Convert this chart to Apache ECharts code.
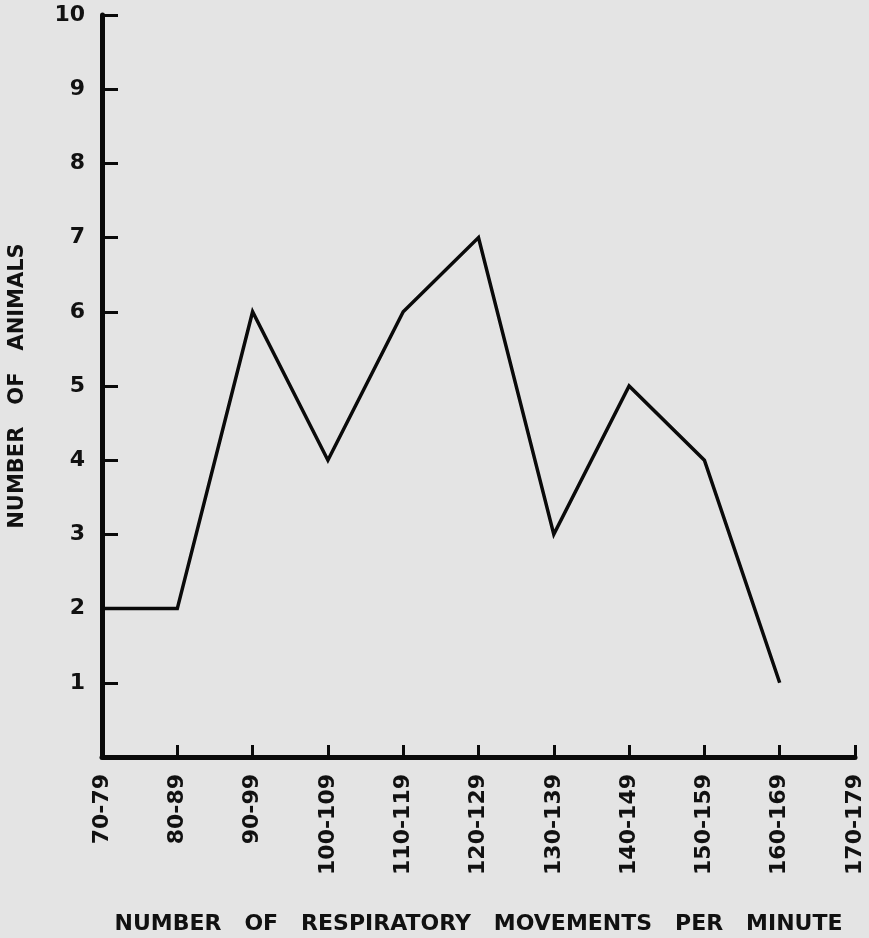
<!DOCTYPE html>
<html>
<head>
<meta charset="utf-8">
<script src="https://cdn.jsdelivr.net/npm/echarts@6/dist/echarts.min.js"></script>
<style>
html,body{margin:0;padding:0;background:#e4e4e4;}
#c{width:869px;height:938px;}
</style>
</head>
<body>
<div id="c"></div>
<script>
const categories = ['70-79','80-89','90-99','100-109','110-119','120-129','130-139','140-149','150-159','160-169','170-179'];
const animals = [2,2,6,4,6,7,3,5,4,1,null];
const yTicks = ['','1','2','3','4','5','6','7','8','9','10'];

const chart = echarts.init(document.getElementById('c'));
const font = 'DejaVu Sans';
chart.setOption({
  backgroundColor:'#e4e4e4',
  animation:false,
  grid:{left:102,right:14,top:15,bottom:181,containLabel:false,outerBoundsMode:'none'},
  xAxis:{
    type:'category',
    data:categories,
    boundaryGap:false,
    name:'NUMBER   OF   RESPIRATORY   MOVEMENTS   PER   MINUTE',
    nameLocation:'middle',
    nameGap:156,
    nameTextStyle:{color:'#111',fontFamily:font,fontSize:22,fontWeight:'bold'},
    axisLine:{lineStyle:{color:'#0a0a0a',width:5}},
    axisTick:{inside:true,length:12,alignWithLabel:true,lineStyle:{color:'#0a0a0a',width:3}},
    axisLabel:{rotate:90,margin:17,color:'#111',fontFamily:font,fontSize:22,fontWeight:'bold',interval:0},
    splitLine:{show:false}
  },
  yAxis:{
    type:'value',
    min:0,max:10,interval:1,
    name:'NUMBER   OF   ANIMALS',
    nameLocation:'middle',
    nameGap:74,
    nameRotate:90,
    nameTextStyle:{color:'#111',fontFamily:font,fontSize:21,fontWeight:'bold'},
    axisLine:{show:true,lineStyle:{color:'#0a0a0a',width:5}},
    axisTick:{show:true,inside:true,length:16,lineStyle:{color:'#0a0a0a',width:3}},
    axisLabel:{margin:17,color:'#111',fontFamily:font,fontSize:22,fontWeight:'bold',
      formatter:function(v){return yTicks[Math.round(v)]||'';}},
    splitLine:{show:false}
  },
  series:[{
    type:'line',
    data:animals,
    symbol:'none',
    lineStyle:{color:'#0a0a0a',width:3.5,join:'miter'},
    connectNulls:false
  }]
});
</script>
</body>
</html>
